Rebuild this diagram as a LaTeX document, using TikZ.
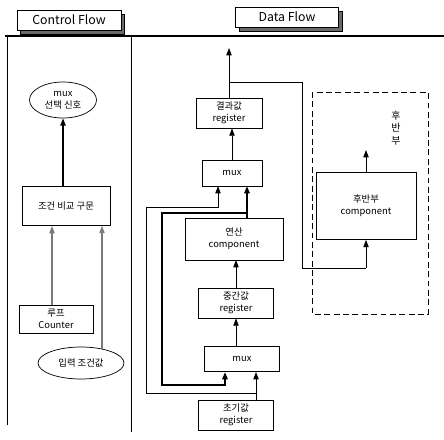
\documentclass[tikz,border=0pt]{standalone}
\usepackage{fontspec}
\setmainfont{Noto Sans CJK KR}
\usetikzlibrary{arrows.meta, shadows, shapes.geometric}
\definecolor{inkline}{HTML}{000000}
\definecolor{inkgray}{HTML}{7A7A7A}
\definecolor{inkshade}{HTML}{6A6A6A}
\tikzset{
  blk/.style={draw=inkline, line width=0.6pt, fill=white, align=center,
              inner sep=1pt, font=\fontsize{8}{10.5}\selectfont},
  oval/.style={blk, ellipse},
  tab/.style={draw=inkline, line width=0.6pt, fill=white,
              font=\fontsize{10.5}{12}\selectfont,
              general shadow={fill=inkshade, draw=inkline, line width=0.4pt,
                              shadow xshift=3pt, shadow yshift=-3.5pt}},
  thickflow/.style={-{Triangle[length=2.2mm, width=1.6mm]}, line width=1.2pt},
  grayflow/.style={-{Triangle[length=2.2mm, width=1.6mm]}, inkgray, line width=0.9pt},
  flow/.style={-{Triangle[length=2.2mm, width=1.6mm]}, line width=0.6pt},
  loopflow/.style={-{Triangle[length=2.2mm, width=1.6mm]}, line width=1.8pt},
}
\newcommand{\blkbox}[6]{%
  \node[blk, minimum width=#4*0.03cm, minimum height=#5*0.03cm] (#1) at (#2,#3) {#6};}
\newcommand{\ovalbox}[6]{%
  \node[oval, minimum width=#4*0.03cm, minimum height=#5*0.03cm] (#1) at (#2,#3) {#6};}

\begin{document}
\begin{tikzpicture}[x=0.03cm, y=-0.03cm]
  \useasboundingbox (0,0) rectangle (444,439);

  % frame
  \draw[line width=1pt] (5,36) -- (444,36);
  \draw[line width=0.8pt] (7,36) -- (7,425);
  \draw[line width=0.8pt] (131,36) -- (131,432);
  \node[tab, minimum width=104*0.03cm, minimum height=20*0.03cm] (ctab) at (69,20) {Control Flow};
  \node[tab, minimum width=103*0.03cm, minimum height=20*0.03cm] (dtab) at (287,17) {Data Flow};

  % control flow
  \ovalbox{sel}{63}{100}{67}{36}{mux\\선택 신호}
  \blkbox{cond}{66}{206}{88}{39}{조건 비교 구문}
  \blkbox{cnt}{56}{319}{74}{28}{루프\\Counter}
  \ovalbox{lim}{81}{363}{86}{32}{입력 조건값}
  \coordinate (limtop) at (102,349);
  \draw[thickflow] (cond.north -| sel.south) -- (sel.south);
  \draw[grayflow] (52,305) -- (52,226);
  \draw[grayflow] (limtop) -- (limtop |- cond.south);

  % data flow
  \blkbox{res}{229}{113}{66}{30}{결과값\\register}
  \blkbox{muxa}{232}{173}{60}{26}{mux}
  \blkbox{op}{234}{239}{98}{42}{연산\\component}
  \blkbox{mid}{236}{303}{75}{30}{중간값\\register}
  \blkbox{muxb}{242}{359}{75}{25}{mux}
  \blkbox{init}{236}{415}{75}{30}{초기값\\register}

  % later stage
  \draw[line width=0.7pt, dashed, dash pattern=on 5pt off 3pt] (312,92) rectangle (428,314);
  \node[align=center, font=\fontsize{8.5}{10.5}\selectfont, inner sep=0pt] (stage) at (396,128) {후\\반\\부};
  \blkbox{post}{366}{206}{100}{67}{후반부\\component}

  \coordinate (out) at (229,48);
  \coordinate (postout) at (366,150);
  \draw[flow] (res.north) -- (out);
  \draw[line width=0.6pt] (229,82) -- (302,82) -- (302,268) -- (366,268);
  \draw[flow] (366,268) -- (post.south);
  \draw[flow] (post.north) -- (postout);
  \draw[flow] (muxa.north) -- (muxa.north |- res.south);
  \draw[loopflow] (247,218) -- (247,186);
  \draw[loopflow] (247,213) -- (162,213) -- (162,385) -- (225,385) -- (225,372);
  \draw[flow] (236,288) -- (236,260);
  \draw[flow] (muxb.north -| mid.south) -- (mid.south);
  \draw[flow] (init.north -| 256,0) -- (256,372);
  \draw[flow] (256,393) -- (146,393) -- (146,207) -- (218,207) -- (218,186);
\end{tikzpicture}
\end{document}
